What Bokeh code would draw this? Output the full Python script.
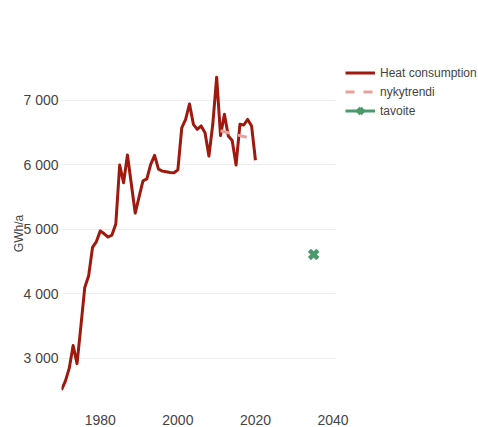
from bokeh.plotting import figure
from bokeh.models import Range1d, FixedTicker, Legend, LegendItem
from bokeh.embed import file_html
from bokeh.resources import INLINE

# ---- data ----
years = list(range(1970, 2021))
heat = [2514, 2650, 2850, 3200, 2920, 3500, 4100, 4280, 4720, 4810,
        4975, 4930, 4880, 4910, 5080, 5995, 5720, 6150, 5700, 5250,
        5500, 5750, 5780, 6005, 6145, 5930, 5900, 5890, 5880, 5875,
        5920, 6570, 6700, 6940, 6625, 6547, 6600, 6495, 6135, 6625,
        7355, 6450, 6780, 6444, 6375, 5995, 6625, 6614, 6700, 6600,
        6068]
trend_years = [2011, 2018]
trend_values = [6525, 6420]
target_years = [2035]
target_values = [4610]

x_ticks = [1980, 2000, 2020, 2040]
y_ticks = [3000, 4000, 5000, 6000, 7000]
y_tick_labels = ["3 000", "4 000", "5 000", "6 000", "7 000"]

series_labels = ["Heat consumption", "nykytrendi", "tavoite"]

X_MIN, X_MAX = 1970, 2040.6      # visible data window (grid extent)
X_VIEW_MAX = 2077.5              # frame extends right to hold the legend

FONT = "Liberation Sans"
TEXT = "#444444"

p = figure(width=478, height=427, output_backend="svg", toolbar_location=None,
           x_range=Range1d(X_MIN, X_VIEW_MAX), y_range=Range1d(2272, 7597),
           min_border_left=61, min_border_right=0,
           min_border_top=61, min_border_bottom=22)
p.outline_line_color = None
p.background_fill_color = "white"
p.border_fill_color = "white"

r_heat = p.line(years, heat, line_color="#a0190e", line_width=3, line_join="round")
r_trend = p.line(trend_years, trend_values, line_color="#e8a19b", line_width=3,
                 line_dash="9 9")
r_target_line = p.line(target_years, target_values, line_color="#4a9a6b", line_width=3)
r_target = p.scatter(target_years, target_values, marker="x", size=12,
                     line_color="#4a9a6b", line_width=4.5)

# axes
p.xaxis.ticker = FixedTicker(ticks=x_ticks)
p.yaxis.ticker = FixedTicker(ticks=y_ticks)
p.yaxis.major_label_overrides = {t: l for t, l in zip(y_ticks, y_tick_labels)}
for ax in (p.xaxis, p.yaxis):
    ax.axis_line_color = None
    ax.major_tick_line_color = None
    ax.minor_tick_line_color = None
    ax.major_tick_out = 0
    ax.major_tick_in = 0
    ax.minor_tick_out = 0
    ax.minor_tick_in = 0
    ax.major_label_text_font = FONT
    ax.major_label_text_font_size = "14px"
    ax.major_label_text_color = TEXT
p.xaxis.major_label_standoff = 9
p.yaxis.major_label_standoff = 3
p.yaxis.axis_label = "GWh/a"
p.yaxis.axis_label_text_font = FONT
p.yaxis.axis_label_text_font_size = "12px"
p.yaxis.axis_label_text_font_style = "normal"
p.yaxis.axis_label_text_color = TEXT
p.yaxis.axis_label_standoff = -6

p.xgrid.grid_line_color = None
p.ygrid.grid_line_color = "#eeeeee"
p.ygrid.grid_line_width = 1
p.ygrid.cross_bounds = (X_MIN, X_MAX)

legend = Legend(items=[
    LegendItem(label=series_labels[0], renderers=[r_heat]),
    LegendItem(label=series_labels[1], renderers=[r_trend]),
    LegendItem(label=series_labels[2], renderers=[r_target_line, r_target]),
], location=(284, 285), orientation="vertical")
legend.padding = 0
legend.margin = 0
legend.spacing = 0
legend.glyph_width = 30
legend.glyph_height = 19
legend.label_standoff = 5
legend.label_text_font = FONT
legend.label_text_font_size = "12px"
legend.label_text_color = TEXT
legend.border_line_color = None
legend.background_fill_alpha = 0
p.add_layout(legend, "center")

open("out.html", "w").write(file_html(p, INLINE))
